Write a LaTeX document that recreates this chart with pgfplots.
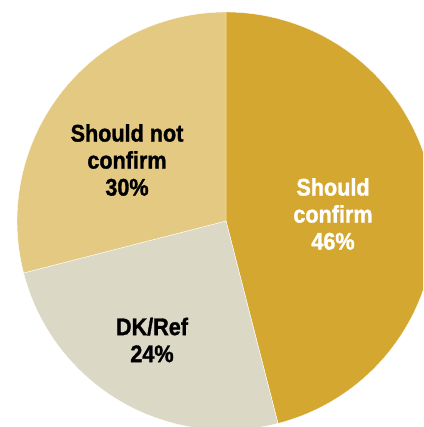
\documentclass[border=0pt]{standalone}
\usepackage{pgfplots}
\pgfplotsset{compat=1.18}
\usepackage{fontspec}
\setmainfont{Liberation Sans}[BoldFeatures={FakeBold=1.3, FakeStretch=0.9}]
\definecolor{cConf}{RGB}{212,167,48}
\definecolor{cDK}{RGB}{220,216,198}
\definecolor{cNot}{RGB}{227,201,130}
% shares used for slice geometry (percent), clockwise from 12 o'clock
\def\sConf{46}
\def\sDK{25}
\def\sNot{29}
\begin{document}
\begin{tikzpicture}
\pgfmathsetmacro\aA{\sConf*3.6}
\pgfmathsetmacro\aB{(\sConf+\sDK)*3.6}
\pgfmathsetmacro\aC{(\sConf+\sDK+\sNot)*3.6}
\begin{axis}[
  width=423pt, height=427pt, scale only axis,
  xmin=0, xmax=423, ymin=0, ymax=427,
  y dir=reverse,
  hide axis, clip=true,
]
\addplot[fill=cConf, draw=white, line width=0.4pt, domain=0:\aA, samples=120, variable=\t]
  ({226+209*sin(t)}, {221-209*cos(t)}) -- (axis cs:226,221) -- cycle;
\addplot[fill=cDK, draw=white, line width=0.4pt, domain=\aA:\aB, samples=80, variable=\t]
  ({226+209*sin(t)}, {221-209*cos(t)}) -- (axis cs:226,221) -- cycle;
\addplot[fill=cNot, draw=white, line width=0.4pt, domain=\aB:\aC, samples=80, variable=\t]
  ({226+209*sin(t)}, {221-209*cos(t)}) -- (axis cs:226,221) -- cycle;
\node[align=center, text=white, font=\fontsize{24}{27}\selectfont\bfseries] at (axis cs:333,214) {Should\\confirm\\46\%};
\node[align=center, text=black, font=\fontsize{24}{27}\selectfont\bfseries] at (axis cs:127,160) {Should not\\confirm\\30\%};
\node[align=center, text=black, font=\fontsize{24}{27}\selectfont\bfseries] at (axis cs:152,340) {DK/Ref\\24\%};
\end{axis}
\pgfresetboundingbox
\useasboundingbox (current axis.south west) rectangle (current axis.north east);
\end{tikzpicture}
\end{document}
